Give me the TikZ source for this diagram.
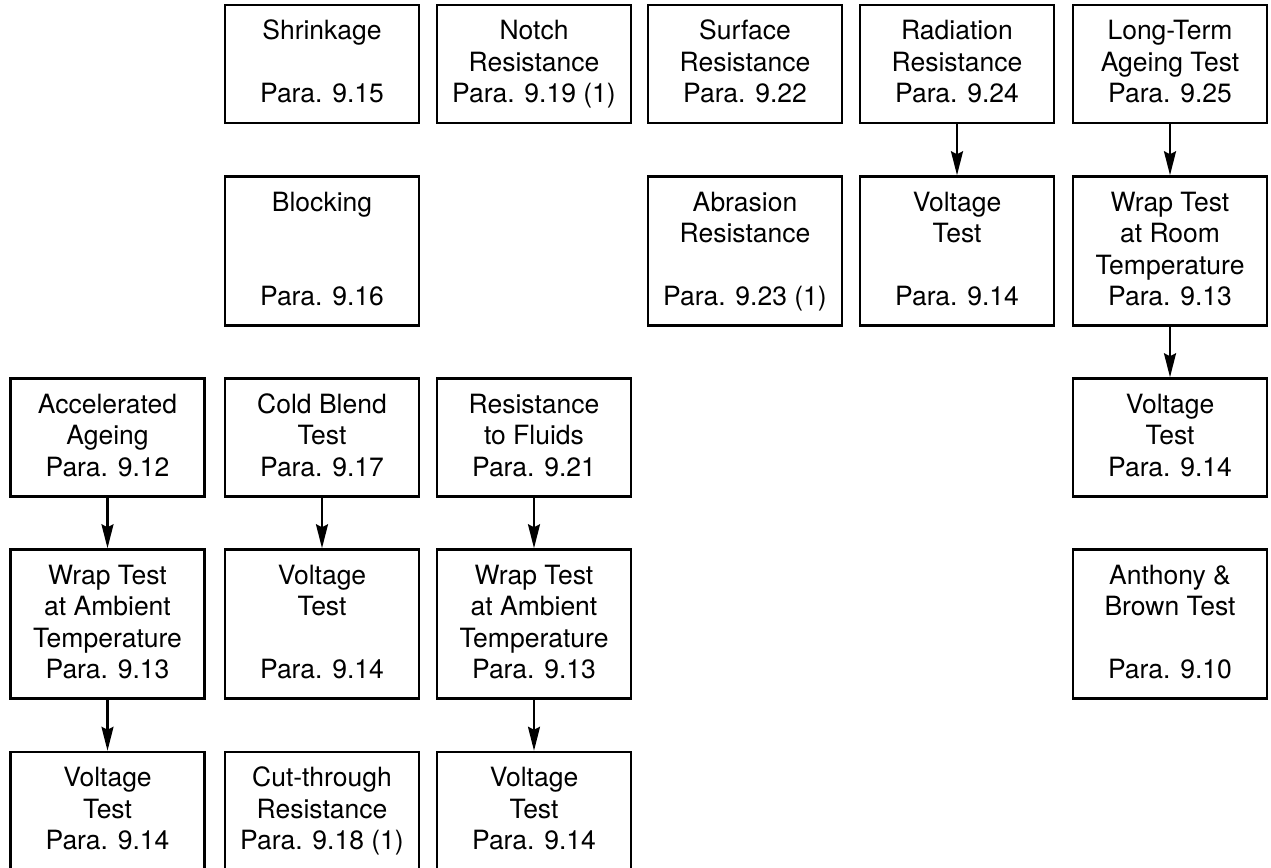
\documentclass[tikz,border=0pt]{standalone}
\usepackage{fontspec}
\setmainfont{TeX Gyre Heros}
\usetikzlibrary{arrows.meta}
\newcommand{\txl}{\rule[-8.5pt]{0pt}{31.5pt}}
\tikzset{
  box/.style={draw=black, line width=2.5pt, rectangle, inner sep=0pt,
    minimum width=194pt, align=center,
    font=\fontsize{26.5pt}{31.5pt}\selectfont},
  shortbox/.style={box, minimum height=118pt},
  tallbox/.style={box, minimum height=149pt},
  flow/.style={line width=2.2pt, -{Stealth[length=24pt,width=12pt,inset=3pt]}}
}
\begin{document}
\begin{tikzpicture}[x=1pt,y=-1pt]
\useasboundingbox (0,0) rectangle (1271,867);
% row 1
\node[shortbox] (shr) at (322,64) {\txl Shrinkage\\\txl\\\txl Para. 9.15};
\node[shortbox] (notch) at (534,64) {\txl Notch\\\txl Resistance\\\txl Para. 9.19 (1)};
\node[shortbox] (surf) at (745,64) {\txl Surface\\\txl Resistance\\\txl Para. 9.22};
\node[shortbox] (rad) at (957,64) {\txl Radiation\\\txl Resistance\\\txl Para. 9.24};
\node[shortbox] (lta) at (1170,64) {\txl Long-Term\\\txl Ageing Test\\\txl Para. 9.25};
% row 2
\node[tallbox] (block) at (322,251) {\txl Blocking\\\txl\\\txl\\\txl Para. 9.16};
\node[tallbox] (abr) at (745,251) {\txl Abrasion\\\txl Resistance\\\txl\\\txl Para. 9.23 (1)};
\node[tallbox] (volt5) at (957,251) {\txl Voltage\\\txl Test\\\txl\\\txl Para. 9.14};
\node[tallbox] (wrapr) at (1170,251) {\txl Wrap Test\\\txl at Room\\\txl Temperature\\\txl Para. 9.13};
% row 3
\node[shortbox] (acc) at (107.5,437.5) {\txl Accelerated\\\txl Ageing\\\txl Para. 9.12};
\node[shortbox] (cold) at (322,437.5) {\txl Cold Blend\\\txl Test\\\txl Para. 9.17};
\node[shortbox] (fluid) at (534,437.5) {\txl Resistance\\\txl to Fluids\\\txl Para. 9.21};
\node[shortbox] (volt6) at (1170,437.5) {\txl Voltage\\\txl Test\\\txl Para. 9.14};
% row 4
\node[tallbox] (wrap1) at (107.5,624) {\txl Wrap Test\\\txl at Ambient\\\txl Temperature\\\txl Para. 9.13};
\node[tallbox] (volt2) at (322,624) {\txl Voltage\\\txl Test\\\txl\\\txl Para. 9.14};
\node[tallbox] (wrap3) at (534,624) {\txl Wrap Test\\\txl at Ambient\\\txl Temperature\\\txl Para. 9.13};
\node[tallbox] (ab) at (1170,624) {\txl Anthony \&\\\txl Brown Test\\\txl\\\txl Para. 9.10};
% row 5
\node[shortbox] (volt1) at (107.5,811) {\txl Voltage\\\txl Test\\\txl Para. 9.14};
\node[shortbox] (cut) at (322,811) {\txl Cut-through\\\txl Resistance\\\txl Para. 9.18 (1)};
\node[shortbox] (volt3) at (534,811) {\txl Voltage\\\txl Test\\\txl Para. 9.14};
% connectors
\draw[flow] (rad.south) -- (volt5.north);
\draw[flow] (lta.south) -- (wrapr.north);
\draw[flow] (wrapr.south) -- (volt6.north);
\draw[flow] (acc.south) -- (wrap1.north);
\draw[flow] (wrap1.south) -- (volt1.north);
\draw[flow] (cold.south) -- (volt2.north);
\draw[flow] (fluid.south) -- (wrap3.north);
\draw[flow] (wrap3.south) -- (volt3.north);
\end{tikzpicture}
\end{document}
